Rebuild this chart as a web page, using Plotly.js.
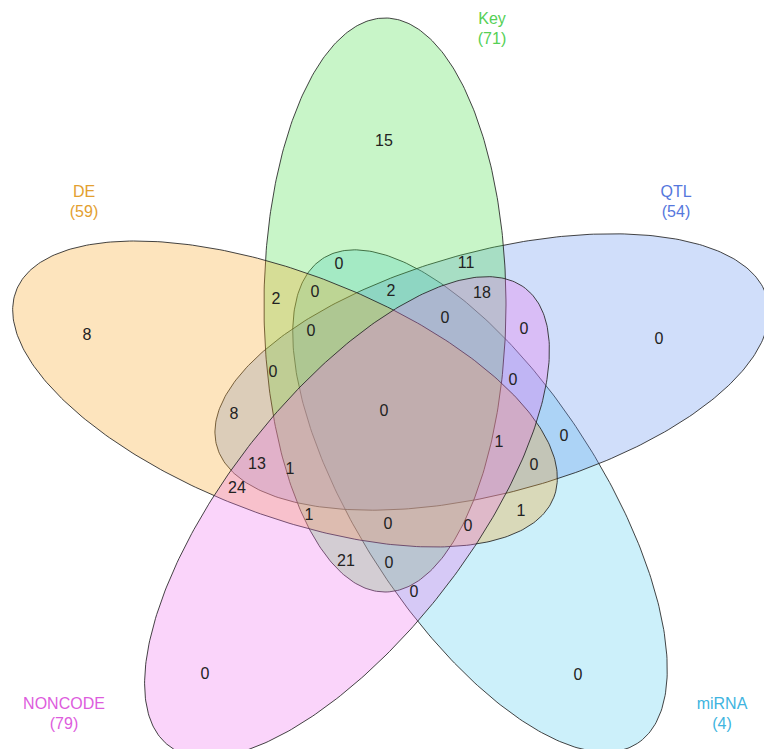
<!DOCTYPE html>
<html><head><meta charset="utf-8">
<script src="https://cdn.plot.ly/plotly-3.0.1.min.js"></script>
<style>html,body{margin:0;padding:0;background:#fff;overflow:hidden}</style>
</head><body><div id="chart" style="width:764px;height:749px"></div>
<script>
// ---- data ----
const setNames  = ["DE", "Key", "QTL", "miRNA", "NONCODE"];
const setTotals = [59, 71, 54, 4, 79];
const setColors = ["#e3a030", "#55d055", "#5577dd", "#40b4e0", "#dd5cdd"];
const setFills  = ["rgba(248,165,38,0.3)", "rgba(72,222,72,0.3)", "rgba(98,145,238,0.3)", "rgba(85,205,238,0.3)", "rgba(238,112,238,0.3)"];
const drawOrder = [3, 2, 1, 0, 4]; // miRNA, QTL, Key, DE, NONCODE

const regionCounts = [15, 8, 0, 0, 0, 0, 11, 2, 0, 2, 18, 0, 0, 0, 0, 0, 8, 0, 0, 1, 13, 1, 0, 24, 1, 0, 0, 1, 21, 0, 0];

// ---- layout (pixel positions) ----
const regionLabelX = [384, 87, 659, 205, 578, 339, 466, 276, 315, 391, 482, 445, 524, 311, 273, 513, 234, 384, 564, 499, 257, 290, 534, 237, 309, 388, 468, 521, 346, 389, 414];
const regionLabelY = [142, 336, 340, 675, 676, 265, 264, 300, 293, 292, 294, 319, 330, 332, 373, 381, 415, 412, 437, 443, 465, 470, 466, 489, 516, 525, 527, 512, 562, 564, 593];
const setLabelX = [84, 492, 676, 722, 64];
const setLabelY = [203, 30, 203, 715, 715];

// ellipse geometry: centre, semi-axes, rotation (deg, screen)
const ellCX  = [285, 385, 492, 480, 347];
const ellCY  = [394, 305, 372, 501, 517];
const ellA   = [288, 287, 285, 289, 290];
const ellB   = [121, 121, 121, 121, 121];
const ellRot = [21, 90, -15, 57, -52];

function ellipse(i) {
  const xs = [], ys = [];
  const r = ellRot[i] * Math.PI / 180;
  for (let k = 0; k <= 360; k++) {
    const t = k * Math.PI / 180;
    const ex = ellA[i] * Math.cos(t), ey = ellB[i] * Math.sin(t);
    xs.push(ellCX[i] + ex * Math.cos(r) - ey * Math.sin(r));
    ys.push(ellCY[i] + ex * Math.sin(r) + ey * Math.cos(r));
  }
  return {x: xs, y: ys, mode: 'lines', fill: 'toself', fillcolor: setFills[i],
          line: {color: 'rgba(35,35,35,0.85)', width: 1}, hoverinfo: 'skip', type: 'scatter'};
}

const traces = drawOrder.map(ellipse);

traces.push({
  type: 'scatter', mode: 'text', x: regionLabelX, y: regionLabelY,
  text: regionCounts.map(String),
  textfont: {family: 'Liberation Sans, Arial, sans-serif', size: 16, color: '#222'},
  hoverinfo: 'skip'
});
traces.push({
  type: 'scatter', mode: 'text', x: setLabelX, y: setLabelY,
  text: setNames.map((n, i) => n + '<br>(' + setTotals[i] + ')'),
  textfont: {family: 'Liberation Sans, Arial, sans-serif', size: 16, color: setColors},
  hoverinfo: 'skip'
});

const layout = {
  width: 764, height: 749,
  margin: {l: 0, r: 0, t: 0, b: 0},
  showlegend: false,
  paper_bgcolor: '#fff', plot_bgcolor: '#fff',
  xaxis: {range: [0, 764], visible: false, fixedrange: true},
  yaxis: {range: [749, 0], visible: false, fixedrange: true}
};
Plotly.newPlot('chart', traces, layout, {staticPlot: true});
</script></body></html>
